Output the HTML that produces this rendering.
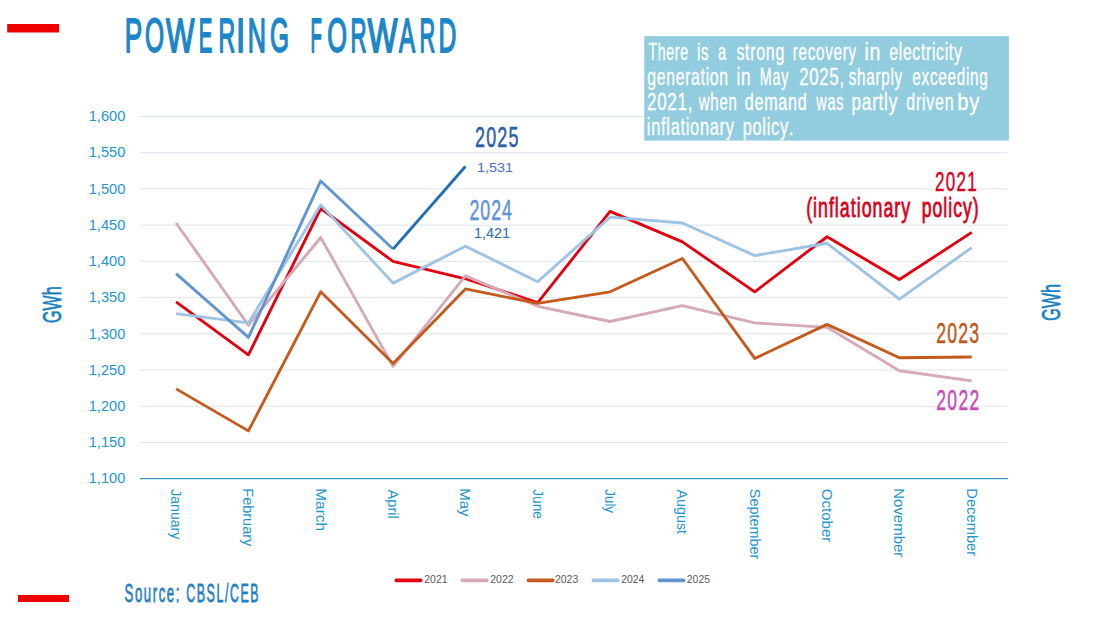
<!DOCTYPE html><html><head><meta charset="utf-8"><style>html,body{margin:0;padding:0;background:#fff;overflow:hidden}svg{display:block}</style></head><body>
<svg width="1100" height="620" viewBox="0 0 1100 620" font-family='"Liberation Sans", sans-serif'>
<rect x="7.2" y="24" width="51.8" height="8.5" fill="#EE0000"/>
<rect x="18" y="595" width="51" height="7" fill="#EE0000"/>
<line x1="139.9" y1="442.48" x2="1007.9" y2="442.48" stroke="#DDE4EC" stroke-width="1"/>
<line x1="139.9" y1="406.26" x2="1007.9" y2="406.26" stroke="#DDE4EC" stroke-width="1"/>
<line x1="139.9" y1="370.04" x2="1007.9" y2="370.04" stroke="#DDE4EC" stroke-width="1"/>
<line x1="139.9" y1="333.82" x2="1007.9" y2="333.82" stroke="#DDE4EC" stroke-width="1"/>
<line x1="139.9" y1="297.60" x2="1007.9" y2="297.60" stroke="#DDE4EC" stroke-width="1"/>
<line x1="139.9" y1="261.38" x2="1007.9" y2="261.38" stroke="#DDE4EC" stroke-width="1"/>
<line x1="139.9" y1="225.16" x2="1007.9" y2="225.16" stroke="#DDE4EC" stroke-width="1"/>
<line x1="139.9" y1="188.94" x2="1007.9" y2="188.94" stroke="#DDE4EC" stroke-width="1"/>
<line x1="139.9" y1="152.72" x2="1007.9" y2="152.72" stroke="#DDE4EC" stroke-width="1"/>
<line x1="139.9" y1="116.50" x2="1007.9" y2="116.50" stroke="#DDE4EC" stroke-width="1"/>
<line x1="139.9" y1="478.59999999999997" x2="1007.9" y2="478.59999999999997" stroke="#3A9BCB" stroke-width="1.4"/>
<text x="88.69" y="483.40" font-size="14.24" fill="#1F95CF" textLength="36.58" lengthAdjust="spacingAndGlyphs">1,100</text>
<text x="88.69" y="447.18" font-size="14.24" fill="#1F95CF" textLength="36.58" lengthAdjust="spacingAndGlyphs">1,150</text>
<text x="88.69" y="410.96" font-size="14.24" fill="#1F95CF" textLength="36.58" lengthAdjust="spacingAndGlyphs">1,200</text>
<text x="88.69" y="374.74" font-size="14.24" fill="#1F95CF" textLength="36.58" lengthAdjust="spacingAndGlyphs">1,250</text>
<text x="88.69" y="338.52" font-size="14.24" fill="#1F95CF" textLength="36.58" lengthAdjust="spacingAndGlyphs">1,300</text>
<text x="88.69" y="302.30" font-size="14.24" fill="#1F95CF" textLength="36.58" lengthAdjust="spacingAndGlyphs">1,350</text>
<text x="88.69" y="266.08" font-size="14.24" fill="#1F95CF" textLength="36.58" lengthAdjust="spacingAndGlyphs">1,400</text>
<text x="88.69" y="229.86" font-size="14.24" fill="#1F95CF" textLength="36.58" lengthAdjust="spacingAndGlyphs">1,450</text>
<text x="88.69" y="193.64" font-size="14.24" fill="#1F95CF" textLength="36.58" lengthAdjust="spacingAndGlyphs">1,500</text>
<text x="88.69" y="157.42" font-size="14.24" fill="#1F95CF" textLength="36.58" lengthAdjust="spacingAndGlyphs">1,550</text>
<text x="88.69" y="121.20" font-size="14.24" fill="#1F95CF" textLength="36.58" lengthAdjust="spacingAndGlyphs">1,600</text>
<text transform="translate(170.97,489.50) rotate(90)" x="-0.22" y="0.00" font-size="14.24" fill="#1F95CF" textLength="49.95" lengthAdjust="spacingAndGlyphs">January</text>
<text transform="translate(243.30,489.50) rotate(90)" x="-1.19" y="0.00" font-size="14.24" fill="#1F95CF" textLength="58.02" lengthAdjust="spacingAndGlyphs">February</text>
<text transform="translate(315.63,489.50) rotate(90)" x="-1.27" y="0.00" font-size="14.24" fill="#1F95CF" textLength="42.87" lengthAdjust="spacingAndGlyphs">March</text>
<text transform="translate(387.97,489.50) rotate(90)" x="-0.03" y="0.00" font-size="14.24" fill="#1F95CF" textLength="29.31" lengthAdjust="spacingAndGlyphs">April</text>
<text transform="translate(460.30,489.50) rotate(90)" x="-1.23" y="0.00" font-size="14.24" fill="#1F95CF" textLength="28.26" lengthAdjust="spacingAndGlyphs">May</text>
<text transform="translate(532.63,489.50) rotate(90)" x="-0.21" y="0.00" font-size="14.24" fill="#1F95CF" textLength="29.62" lengthAdjust="spacingAndGlyphs">June</text>
<text transform="translate(604.97,489.50) rotate(90)" x="-0.21" y="0.00" font-size="14.24" fill="#1F95CF" textLength="23.73" lengthAdjust="spacingAndGlyphs">July</text>
<text transform="translate(677.30,489.50) rotate(90)" x="-0.03" y="0.00" font-size="14.24" fill="#1F95CF" textLength="44.53" lengthAdjust="spacingAndGlyphs">August</text>
<text transform="translate(749.63,489.50) rotate(90)" x="-0.66" y="0.00" font-size="14.24" fill="#1F95CF" textLength="70.59" lengthAdjust="spacingAndGlyphs">September</text>
<text transform="translate(821.97,489.50) rotate(90)" x="-0.71" y="0.00" font-size="14.24" fill="#1F95CF" textLength="53.46" lengthAdjust="spacingAndGlyphs">October</text>
<text transform="translate(894.30,489.50) rotate(90)" x="-1.23" y="0.00" font-size="14.24" fill="#1F95CF" textLength="68.97" lengthAdjust="spacingAndGlyphs">November</text>
<text transform="translate(966.63,489.50) rotate(90)" x="-1.21" y="0.00" font-size="14.24" fill="#1F95CF" textLength="67.85" lengthAdjust="spacingAndGlyphs">December</text>
<polyline points="176.07,301.95 248.40,354.83 320.73,208.50 393.07,261.38 465.40,278.77 537.73,302.67 610.07,211.40 682.40,241.82 754.73,291.80 827.07,236.75 899.40,279.49 971.73,232.40" fill="none" stroke="#E3000F" stroke-width="2.85" stroke-linejoin="round" stroke-linecap="butt"/>
<polyline points="176.07,222.99 248.40,325.13 320.73,237.47 393.07,366.42 465.40,275.87 537.73,306.29 610.07,321.51 682.40,305.57 754.73,322.95 827.07,327.30 899.40,370.76 971.73,380.91" fill="none" stroke="#D5A9B8" stroke-width="2.85" stroke-linejoin="round" stroke-linecap="butt"/>
<polyline points="176.07,388.87 248.40,430.89 320.73,291.80 393.07,363.52 465.40,288.91 537.73,303.40 610.07,291.80 682.40,258.48 754.73,358.45 827.07,324.40 899.40,357.73 971.73,357.00" fill="none" stroke="#C55A1C" stroke-width="2.85" stroke-linejoin="round" stroke-linecap="butt"/>
<polyline points="176.07,313.54 248.40,322.95 320.73,204.88 393.07,283.11 465.40,246.17 537.73,281.66 610.07,217.19 682.40,222.99 754.73,255.58 827.07,243.27 899.40,299.05 971.73,247.62" fill="none" stroke="#9DC3E6" stroke-width="2.85" stroke-linejoin="round" stroke-linecap="butt"/>
<polyline points="176.07,273.69 248.40,337.44 320.73,180.97 393.07,249.07" fill="none" stroke="#5F96D0" stroke-width="2.85" stroke-linejoin="round" stroke-linecap="butt"/>
<line x1="393.07" y1="249.07" x2="465.40" y2="166.48" stroke="#1F6DB5" stroke-width="2.85" stroke-linecap="butt"/>
<text x="124.76" y="52.20" font-size="48.11" fill="#1B86C8" stroke="#1B86C8" stroke-width="1.8" stroke-linejoin="round" textLength="17.42" lengthAdjust="spacingAndGlyphs">P</text>
<text x="144.94" y="52.20" font-size="48.11" fill="#1B86C8" stroke="#1B86C8" stroke-width="1.8" stroke-linejoin="round" textLength="19.03" lengthAdjust="spacingAndGlyphs">O</text>
<text x="166.07" y="52.20" font-size="48.11" fill="#1B86C8" stroke="#1B86C8" stroke-width="1.8" stroke-linejoin="round" textLength="28.54" lengthAdjust="spacingAndGlyphs">W</text>
<text x="198.74" y="52.20" font-size="48.11" fill="#1B86C8" stroke="#1B86C8" stroke-width="1.8" stroke-linejoin="round" textLength="13.54" lengthAdjust="spacingAndGlyphs">E</text>
<text x="218.51" y="52.20" font-size="48.11" fill="#1B86C8" stroke="#1B86C8" stroke-width="1.8" stroke-linejoin="round" textLength="16.66" lengthAdjust="spacingAndGlyphs">R</text>
<text x="235.93" y="52.20" font-size="48.11" fill="#1B86C8" stroke="#1B86C8" stroke-width="1.8" stroke-linejoin="round" textLength="9.24" lengthAdjust="spacingAndGlyphs">I</text>
<text x="247.73" y="52.20" font-size="48.11" fill="#1B86C8" stroke="#1B86C8" stroke-width="1.8" stroke-linejoin="round" textLength="18.23" lengthAdjust="spacingAndGlyphs">N</text>
<text x="270.08" y="52.20" font-size="48.11" fill="#1B86C8" stroke="#1B86C8" stroke-width="1.8" stroke-linejoin="round" textLength="18.94" lengthAdjust="spacingAndGlyphs">G</text>
<text x="310.59" y="52.20" font-size="48.11" fill="#1B86C8" stroke="#1B86C8" stroke-width="1.8" stroke-linejoin="round" textLength="11.25" lengthAdjust="spacingAndGlyphs">F</text>
<text x="327.20" y="52.20" font-size="48.11" fill="#1B86C8" stroke="#1B86C8" stroke-width="1.8" stroke-linejoin="round" textLength="19.71" lengthAdjust="spacingAndGlyphs">O</text>
<text x="350.58" y="52.20" font-size="48.11" fill="#1B86C8" stroke="#1B86C8" stroke-width="1.8" stroke-linejoin="round" textLength="16.05" lengthAdjust="spacingAndGlyphs">R</text>
<text x="367.46" y="52.20" font-size="48.11" fill="#1B86C8" stroke="#1B86C8" stroke-width="1.8" stroke-linejoin="round" textLength="29.95" lengthAdjust="spacingAndGlyphs">W</text>
<text x="399.05" y="52.20" font-size="48.11" fill="#1B86C8" stroke="#1B86C8" stroke-width="1.8" stroke-linejoin="round" textLength="16.09" lengthAdjust="spacingAndGlyphs">A</text>
<text x="419.42" y="52.20" font-size="48.11" fill="#1B86C8" stroke="#1B86C8" stroke-width="1.8" stroke-linejoin="round" textLength="15.69" lengthAdjust="spacingAndGlyphs">R</text>
<text x="438.58" y="52.20" font-size="48.11" fill="#1B86C8" stroke="#1B86C8" stroke-width="1.8" stroke-linejoin="round" textLength="17.80" lengthAdjust="spacingAndGlyphs">D</text>
<rect x="644.3" y="36.1" width="364.6" height="104.5" fill="#92CDDF"/>
<text transform="scale(0.58643833307175,1)" x="1105.72 1121.56 1136.09 1150.62 1159.80" y="60.45" font-size="23.98" fill="#FFFFFF" stroke="#FFFFFF" stroke-width="0.30" stroke-linejoin="round" vector-effect="non-scaling-stroke">There</text>
<text transform="scale(0.6263120160596578,1)" x="1112.94 1119.38" y="60.45" font-size="23.98" fill="#FFFFFF" stroke="#FFFFFF" stroke-width="0.30" stroke-linejoin="round" vector-effect="non-scaling-stroke">is</text>
<text transform="scale(0.6087970964396819,1)" x="1179.59" y="60.45" font-size="23.98" fill="#FFFFFF" stroke="#FFFFFF" stroke-width="0.30" stroke-linejoin="round" vector-effect="non-scaling-stroke">a</text>
<text transform="scale(0.6657096129383968,1)" x="1106.20 1119.24 1126.95 1135.99 1150.38 1164.77" y="60.45" font-size="23.98" fill="#FFFFFF" stroke="#FFFFFF" stroke-width="0.30" stroke-linejoin="round" vector-effect="non-scaling-stroke">strong</text>
<text transform="scale(0.6366072235383785,1)" x="1245.25 1254.34 1268.78 1281.87 1296.30 1309.40 1323.83 1332.92" y="60.45" font-size="23.98" fill="#FFFFFF" stroke="#FFFFFF" stroke-width="0.30" stroke-linejoin="round" vector-effect="non-scaling-stroke">recovery</text>
<text transform="scale(0.8126613567701152,1)" x="1063.85 1070.04" y="60.45" font-size="23.98" fill="#FFFFFF" stroke="#FFFFFF" stroke-width="0.30" stroke-linejoin="round" vector-effect="non-scaling-stroke">in</text>
<text transform="scale(0.6553206149605967,1)" x="1357.02 1371.43 1377.82 1392.23 1405.29 1413.02 1422.07 1428.47 1441.53 1447.93 1455.66" y="60.45" font-size="23.98" fill="#FFFFFF" stroke="#FFFFFF" stroke-width="0.30" stroke-linejoin="round" vector-effect="non-scaling-stroke">electricity</text>
<text transform="scale(0.6571542059068498,1)" x="984.99 999.39 1013.79 1028.20 1042.60 1051.65 1066.06 1073.78 1080.18 1094.58" y="85.25" font-size="23.98" fill="#FFFFFF" stroke="#FFFFFF" stroke-width="0.30" stroke-linejoin="round" vector-effect="non-scaling-stroke">generation</text>
<text transform="scale(0.7159159571546323,1)" x="1028.89 1035.20" y="85.25" font-size="23.98" fill="#FFFFFF" stroke="#FFFFFF" stroke-width="0.30" stroke-linejoin="round" vector-effect="non-scaling-stroke">in</text>
<text transform="scale(0.598242637355433,1)" x="1270.18 1291.32 1305.83" y="85.25" font-size="23.98" fill="#FFFFFF" stroke="#FFFFFF" stroke-width="0.30" stroke-linejoin="round" vector-effect="non-scaling-stroke">May</text>
<text transform="scale(0.7007315820461769,1)" x="1140.53 1154.87 1169.20 1183.54 1197.88" y="85.25" font-size="23.98" fill="#FFFFFF" stroke="#FFFFFF" stroke-width="0.30" stroke-linejoin="round" vector-effect="non-scaling-stroke">2025,</text>
<text transform="scale(0.6370928363284272,1)" x="1332.18 1345.27 1359.71 1374.15 1383.23 1397.67 1404.10" y="85.25" font-size="23.98" fill="#FFFFFF" stroke="#FFFFFF" stroke-width="0.30" stroke-linejoin="round" vector-effect="non-scaling-stroke">sharply</text>
<text transform="scale(0.6396584843832056,1)" x="1426.23 1440.66 1453.75 1466.83 1481.26 1495.70 1510.13 1516.55 1530.98" y="85.25" font-size="23.98" fill="#FFFFFF" stroke="#FFFFFF" stroke-width="0.30" stroke-linejoin="round" vector-effect="non-scaling-stroke">exceeding</text>
<text transform="scale(0.7077918498753571,1)" x="914.25 928.57 942.90 957.23 971.56" y="110.05" font-size="23.98" fill="#FFFFFF" stroke="#FFFFFF" stroke-width="0.30" stroke-linejoin="round" vector-effect="non-scaling-stroke">2021,</text>
<text transform="scale(0.6235226795864642,1)" x="1120.84 1139.29 1153.75 1168.21" y="110.05" font-size="23.98" fill="#FFFFFF" stroke="#FFFFFF" stroke-width="0.30" stroke-linejoin="round" vector-effect="non-scaling-stroke">when</text>
<text transform="scale(0.6728799902125814,1)" x="1106.99 1121.37 1135.75 1156.77 1171.15 1185.52" y="110.05" font-size="23.98" fill="#FFFFFF" stroke="#FFFFFF" stroke-width="0.30" stroke-linejoin="round" vector-effect="non-scaling-stroke">demand</text>
<text transform="scale(0.6002206325365105,1)" x="1360.12 1378.60 1393.11" y="110.05" font-size="23.98" fill="#FFFFFF" stroke="#FFFFFF" stroke-width="0.30" stroke-linejoin="round" vector-effect="non-scaling-stroke">was</text>
<text transform="scale(0.7203799074488734,1)" x="1182.07 1196.38 1210.69 1219.64 1227.28 1233.58" y="110.05" font-size="23.98" fill="#FFFFFF" stroke="#FFFFFF" stroke-width="0.30" stroke-linejoin="round" vector-effect="non-scaling-stroke">partly</text>
<text transform="scale(0.6692564759368285,1)" x="1354.30 1368.69 1377.72 1384.09 1397.13 1411.52" y="110.05" font-size="23.98" fill="#FFFFFF" stroke="#FFFFFF" stroke-width="0.30" stroke-linejoin="round" vector-effect="non-scaling-stroke">driven</text>
<text transform="scale(0.8425647695504647,1)" x="1136.23 1150.40" y="110.05" font-size="23.98" fill="#FFFFFF" stroke="#FFFFFF" stroke-width="0.30" stroke-linejoin="round" vector-effect="non-scaling-stroke">by</text>
<text transform="scale(0.6848658664903681,1)" x="944.49 950.84 965.20 972.89 979.24 993.60 1001.29 1007.64 1022.00 1036.36 1050.72 1059.73" y="134.85" font-size="23.98" fill="#FFFFFF" stroke="#FFFFFF" stroke-width="0.30" stroke-linejoin="round" vector-effect="non-scaling-stroke">inflationary</text>
<text transform="scale(0.6833383046653192,1)" x="1086.86 1101.22 1115.59 1121.94 1128.29 1141.31 1154.32" y="134.85" font-size="23.98" fill="#FFFFFF" stroke="#FFFFFF" stroke-width="0.30" stroke-linejoin="round" vector-effect="non-scaling-stroke">policy.</text>
<text transform="scale(0.6,1)" x="791.83 810.34 828.84 847.35" y="147.00" font-size="29.80" fill="#2A5DAA" stroke="#2A5DAA" stroke-width="0.40" stroke-linejoin="round" vector-effect="non-scaling-stroke">2025</text>
<text x="476.90" y="171.50" font-size="13.23" fill="#4A70C0" textLength="36.00" lengthAdjust="spacingAndGlyphs">1,531</text>
<text transform="scale(0.6,1)" x="782.51 800.63 818.75 836.88" y="219.80" font-size="29.65" fill="#5E93D8" stroke="#5E93D8" stroke-width="0.40" stroke-linejoin="round" vector-effect="non-scaling-stroke">2024</text>
<text x="473.90" y="237.90" font-size="14.10" fill="#2E6AB0" textLength="36.10" lengthAdjust="spacingAndGlyphs">1,421</text>
<text transform="scale(0.6,1)" x="1558.24 1576.26 1594.27 1612.29" y="190.90" font-size="28.34" fill="#D9001B" stroke="#D9001B" stroke-width="0.40" stroke-linejoin="round" vector-effect="non-scaling-stroke">2021</text>
<text transform="scale(0.6621846523711659,1)" x="1217.40 1227.87 1235.35 1251.82 1260.80 1268.28 1284.75 1293.73 1301.21 1317.68 1334.14 1350.61 1361.07" y="217.25" font-size="26.89" fill="#D9001B" stroke="#D9001B" stroke-width="0.70" stroke-linejoin="round" vector-effect="non-scaling-stroke">(inflationary</text>
<text transform="scale(0.6540874856124889,1)" x="1409.32 1425.80 1442.28 1449.79 1457.29 1472.26 1487.24" y="217.25" font-size="26.89" fill="#D9001B" stroke="#D9001B" stroke-width="0.70" stroke-linejoin="round" vector-effect="non-scaling-stroke">policy)</text>
<text transform="scale(0.6,1)" x="1560.36 1578.72 1597.09 1615.46" y="343.20" font-size="29.36" fill="#C0581A" stroke="#C0581A" stroke-width="0.40" stroke-linejoin="round" vector-effect="non-scaling-stroke">2023</text>
<text transform="scale(0.6,1)" x="1560.37 1578.85 1597.32 1615.79" y="410.00" font-size="29.07" fill="#C84AB8" stroke="#C84AB8" stroke-width="0.40" stroke-linejoin="round" vector-effect="non-scaling-stroke">2022</text>
<text transform="translate(60.50,322.50) rotate(-90)" x="-0.46" y="0.00" font-size="25.87" fill="#1A80C2" stroke="#1A80C2" stroke-width="0.7" stroke-linejoin="round" textLength="36.65" lengthAdjust="spacingAndGlyphs">GWh</text>
<text transform="translate(1060.10,320.30) rotate(-90)" x="-0.46" y="0.00" font-size="25.29" fill="#1A80C2" stroke="#1A80C2" stroke-width="0.7" stroke-linejoin="round" textLength="36.76" lengthAdjust="spacingAndGlyphs">GWh</text>
<line x1="396.3" y1="580.4" x2="420.7" y2="580.4" stroke="#E3000F" stroke-width="3.6" stroke-linecap="round"/>
<text x="424.27" y="582.80" font-size="10.90" fill="#595959" textLength="23.34" lengthAdjust="spacingAndGlyphs">2021</text>
<line x1="462.4" y1="580.4" x2="486.8" y2="580.4" stroke="#D5A9B8" stroke-width="3.6" stroke-linecap="round"/>
<text x="490.27" y="582.80" font-size="10.90" fill="#595959" textLength="23.36" lengthAdjust="spacingAndGlyphs">2022</text>
<line x1="528.4" y1="580.4" x2="552.8" y2="580.4" stroke="#C55A1C" stroke-width="3.6" stroke-linecap="round"/>
<text x="554.97" y="582.80" font-size="10.90" fill="#595959" textLength="23.29" lengthAdjust="spacingAndGlyphs">2023</text>
<line x1="593.4" y1="580.4" x2="617.8" y2="580.4" stroke="#9DC3E6" stroke-width="3.6" stroke-linecap="round"/>
<text x="621.28" y="582.80" font-size="10.90" fill="#595959" textLength="23.13" lengthAdjust="spacingAndGlyphs">2024</text>
<line x1="659.3" y1="580.4" x2="683.7" y2="580.4" stroke="#5F96D0" stroke-width="3.6" stroke-linecap="round"/>
<text x="686.77" y="582.80" font-size="10.90" fill="#595959" textLength="23.27" lengthAdjust="spacingAndGlyphs">2025</text>
<text transform="scale(0.5126093108720726,1)" x="243.08 263.26 280.61 297.96 309.60 325.51 342.86" y="601.70" font-size="25.58" fill="#1F80C1" stroke="#1F80C1" stroke-width="0.60" stroke-linejoin="round" vector-effect="non-scaling-stroke">Source:</text>
<text transform="scale(0.48350508258629826,1)" x="385.05 406.83 427.20 447.57 465.11 475.53 497.31 517.68" y="601.70" font-size="25.58" fill="#1F80C1" stroke="#1F80C1" stroke-width="0.60" stroke-linejoin="round" vector-effect="non-scaling-stroke">CBSL/CEB</text>
</svg></body></html>
